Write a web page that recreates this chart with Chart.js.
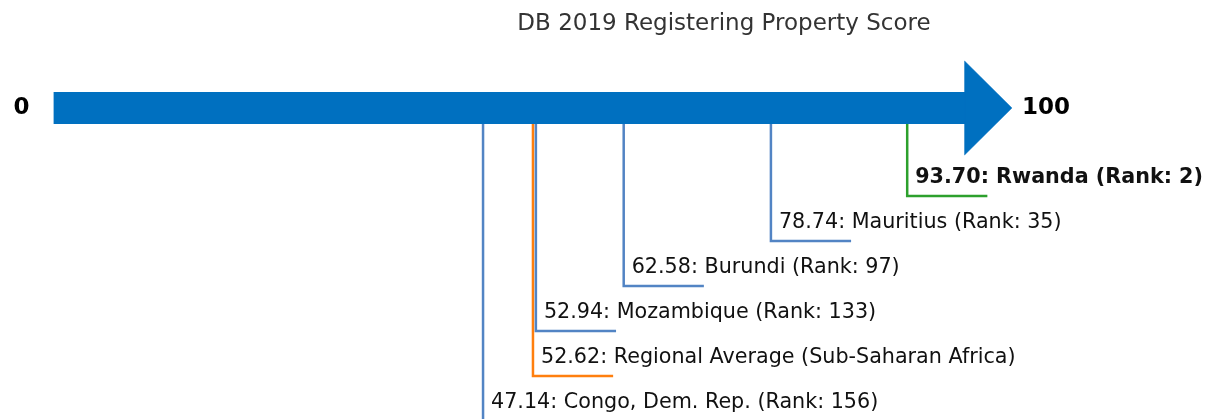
<!DOCTYPE html>
<html>
<head>
<meta charset="utf-8">
<script src="https://cdn.jsdelivr.net/npm/chart.js@4.4.1/dist/chart.umd.min.js"></script>
<style>
  html, body { margin: 0; padding: 0; background: #ffffff; }
  #wrap { width: 1206px; height: 419px; }
</style>
</head>
<body>
<div id="wrap"><canvas id="c" width="1206" height="419"></canvas></div>
<script>
// ---- Data ----
const titleText = 'DB 2019 Registering Property Score';
const economies = ['Rwanda', 'Mauritius', 'Burundi', 'Mozambique', 'Regional Average (Sub-Saharan Africa)', 'Congo, Dem. Rep.'];
const scores = [93.70, 78.74, 62.58, 52.94, 52.62, 47.14];
const ranks = [2, 35, 97, 133, null, 156];
const kinds = ['focus', 'peer', 'peer', 'peer', 'region', 'peer'];
const axisMin = 0;
const axisMax = 100;

// ---- Styles ----
const kindColor = { focus: '#2ca02c', peer: '#5284c4', region: '#ff7f0e' };
const arrowColor = '#0070c0';
const FONT = "'DejaVu Sans', sans-serif";

// layout in level units (1 unit = one label row)
const bodyHalf = 0.356, headHalf = 1.044, headLen = 5.2, tickLen = 8.8;
const firstLevel = 1.956, levelStep = 1.0;

const labelText = i => {
  const v = scores[i].toFixed(2);
  return ranks[i] == null ? `${v}: ${economies[i]}` : `${v}: ${economies[i]} (Rank: ${ranks[i]})`;
};

const datasets = [];
// arrow body (axis 0..100) as a thick line
datasets.push({
  label: 'axis',
  data: [{x: axisMin, y: 0}, {x: axisMax + 0.1, y: 0}],
  borderColor: arrowColor, borderWidth: 32, borderCapStyle: 'butt', fill: false,
  pointRadius: 0, tension: 0, order: 3, clip: false
});
// arrow head as a filled shape
datasets.push({
  label: 'axis head',
  data: [
    {x: axisMax, y: headHalf}, {x: axisMax + headLen, y: 0},
    {x: axisMax, y: -headHalf}, {x: axisMax, y: headHalf}
  ],
  fill: 'shape', backgroundColor: arrowColor, borderColor: arrowColor, borderWidth: 0.5,
  pointRadius: 0, tension: 0, order: 2, clip: false
});
scores.forEach((s, i) => {
  const lvl = -(firstLevel + i * levelStep);
  datasets.push({
    label: economies[i],
    data: [{x: s, y: -bodyHalf}, {x: s, y: lvl}, {x: s + tickLen, y: lvl}],
    borderColor: kindColor[kinds[i]], borderWidth: 2.5, fill: false,
    pointRadius: 0, tension: 0, order: 1, clip: false,
    borderCapStyle: 'butt', borderJoinStyle: 'miter'
  });
});

const labelPlugin = {
  id: 'labels',
  afterDatasetsDraw(chart) {
    const {ctx, scales: {x, y}} = chart;
    ctx.save();
    // axis end labels
    ctx.fillStyle = '#000';
    ctx.font = `bold 23px ${FONT}`;
    ctx.textBaseline = 'middle';
    ctx.textAlign = 'right';
    ctx.fillText(String(axisMin), x.getPixelForValue(axisMin) - 24, y.getPixelForValue(0));
    ctx.textAlign = 'left';
    ctx.fillText(String(axisMax), x.getPixelForValue(axisMax + headLen) + 10, y.getPixelForValue(0));
    // value labels
    scores.forEach((s, i) => {
      const lvl = -(firstLevel + i * levelStep);
      ctx.font = (kinds[i] === 'focus' ? 'bold ' : '') + `20.7px ${FONT}`;
      ctx.fillStyle = '#111';
      ctx.textAlign = 'left';
      ctx.textBaseline = 'middle';
      ctx.fillText(labelText(i), x.getPixelForValue(s) + 8, y.getPixelForValue(lvl) - 18);
    });
    ctx.restore();
  }
};

new Chart(document.getElementById('c'), {
  type: 'line',
  data: { datasets },
  options: {
    responsive: false,
    animation: false,
    layout: { padding: { left: 242, right: 0, top: 0, bottom: 0 } },
    scales: {
      x: { type: 'linear', min: 20.68, max: 126.5, display: false },
      y: { type: 'linear', min: -6.911, max: 1.333, display: false }
    },
    plugins: {
      legend: { display: false },
      tooltip: { enabled: false },
      title: {
        display: true, text: titleText, color: '#333333', fullSize: false,
        font: { family: FONT, size: 23, weight: 'normal', lineHeight: 1.2 },
        padding: { top: 10, bottom: 10.4 }
      }
    }
  },
  plugins: [labelPlugin]
});
</script>
</body>
</html>
